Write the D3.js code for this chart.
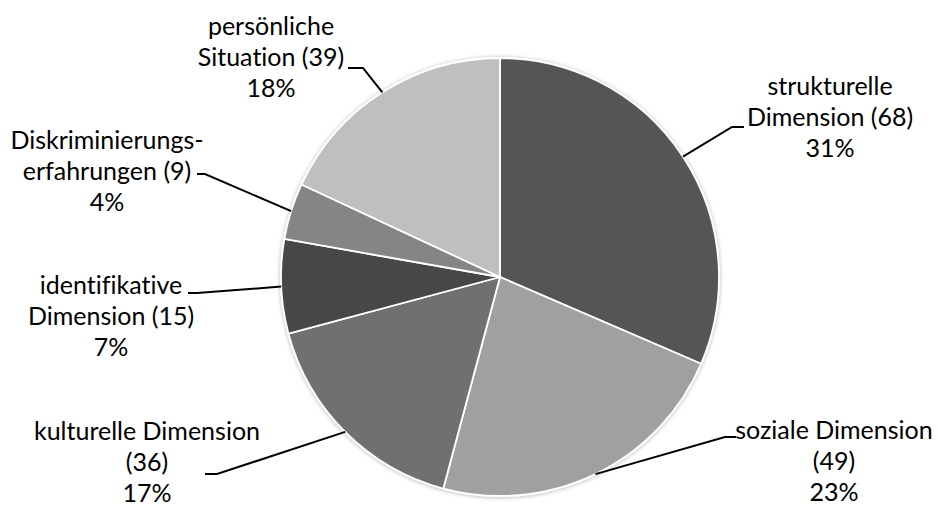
<!DOCTYPE html>
<html>
<head>
<meta charset="utf-8">
<script src="https://cdn.jsdelivr.net/npm/d3@7"></script>
<style>
  html, body { margin: 0; padding: 0; background: #fff; }
  svg { display: block; }
  text { font-family: Lato, "Open Sans", sans-serif; fill: #000; font-variant-ligatures: none; }
</style>
</head>
<body>
<svg id="chart" width="938" height="507"></svg>
<script>
// Categories and counts, clockwise from 12 o'clock
const categories = [
  "strukturelle Dimension",
  "soziale Dimension",
  "kulturelle Dimension",
  "identifikative Dimension",
  "Diskriminierungserfahrungen",
  "persönliche Situation"
];
const counts = [68, 49, 36, 15, 9, 39];
const percentLabels = ["31%", "23%", "17%", "7%", "4%", "18%"];
// Label text lines (the percentage is appended as the last line)
const labelLines = [
  ["strukturelle", "Dimension (68)"],
  ["soziale Dimension", "(49)"],
  ["kulturelle Dimension", "(36)"],
  ["identifikative", "Dimension (15)"],
  ["Diskriminierungs-", "erfahrungen (9)"],
  ["persönliche", "Situation (39)"]
];
const sliceColors = ["#555555", "#a0a0a0", "#707070", "#474747", "#858585", "#bfbfbf"];

// Label placement: text centre x, first baseline y, leader elbow and end
const labelLayout = [
  { x: 830, y: 95,  elbow: [732, 127], end: [744, 127] },
  { x: 834, y: 439, elbow: [725, 437], end: [736, 437] },
  { x: 147, y: 440, elbow: [217, 474], end: [205, 474] },
  { x: 111, y: 294, elbow: [197, 293], end: [188, 293] },
  { x: 107, y: 149, elbow: [205, 174], end: [197, 174] },
  { x: 271, y: 35,  elbow: [363, 68],  end: [348, 68] }
];

const width = 938, height = 507;
const cx = 500, cy = 277, radius = 219;
const lineHeight = 31;

const svg = d3.select("#chart");

// Soft grey halo round the pie
const defs = svg.append("defs");
const shadow = defs.append("filter").attr("id", "softEdge")
  .attr("x", "-10%").attr("y", "-10%").attr("width", "120%").attr("height", "120%");
shadow.append("feDropShadow")
  .attr("dx", 0).attr("dy", 0.5).attr("stdDeviation", 2)
  .attr("flood-color", "#000").attr("flood-opacity", 0.3);

const color = d3.scaleOrdinal().domain(categories).range(sliceColors);

const pie = d3.pie().sort(null).value(d => d.count);
const data = categories.map((c, i) => ({ name: c, count: counts[i], i }));
const arcs = pie(data);

const arc = d3.arc().innerRadius(0).outerRadius(radius);

const g = svg.append("g").attr("transform", `translate(${cx},${cy})`);

g.append("g").attr("filter", "url(#softEdge)")
  .selectAll("path")
  .data(arcs)
  .join("path")
  .attr("d", arc)
  .attr("fill", d => color(d.data.name))
  .attr("stroke", "#fff")
  .attr("stroke-width", 1.8)
  .attr("stroke-linejoin", "round");

// Leader lines from the slice edge at its mid-angle
const leaders = svg.append("g");
arcs.forEach((a, i) => {
  const mid = (a.startAngle + a.endAngle) / 2;
  const start = [cx + radius * Math.sin(mid), cy - radius * Math.cos(mid)];
  const L = labelLayout[i];
  leaders.append("polyline")
    .attr("points", [start, L.elbow, L.end].map(p => p.join(",")).join(" "))
    .attr("fill", "none")
    .attr("stroke", "#000")
    .attr("stroke-width", 2);
});

// Labels
const labels = svg.append("g");
arcs.forEach((a, i) => {
  const L = labelLayout[i];
  const lines = labelLines[i].concat([percentLabels[i]]);
  const t = labels.append("text")
    .attr("text-anchor", "middle")
    .attr("font-size", 25);
  lines.forEach((ln, k) => {
    t.append("tspan").attr("x", L.x).attr("y", L.y + k * lineHeight).text(ln);
  });
});
</script>
</body>
</html>
